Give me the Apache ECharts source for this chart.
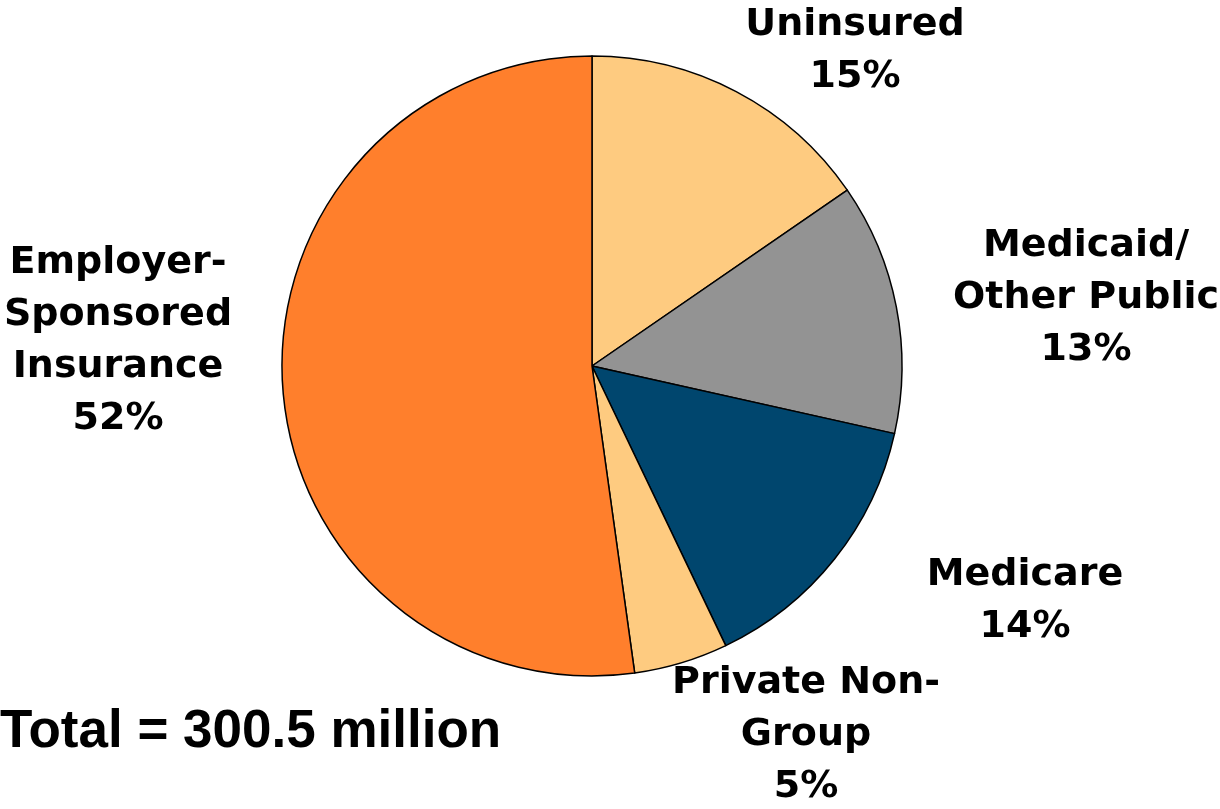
<!DOCTYPE html>
<html>
<head>
<meta charset="utf-8">
<style>html,body{margin:0;padding:0;background:#fff;}#c{width:1220px;height:809px;}</style>
<script src="https://cdn.jsdelivr.net/npm/echarts@6/dist/echarts.min.js"></script>
</head>
<body>
<div id="c"></div>
<script>
var categories = ['Uninsured', 'Medicaid/\nOther Public', 'Medicare', 'Private Non-\nGroup', 'Employer-\nSponsored\nInsurance'];
var shares = [15.4, 13.1, 14.4, 4.9, 52.2];
var colors = ['#FECB80', '#939393', '#00466E', '#FECB80', '#FF7F2C'];
var totalText = 'Total = 300.5 million';

var labelPos = [[855, 51], [1086, 298], [1025, 601], [806, 735], [118, 341]];

var chart = echarts.init(document.getElementById('c'));
chart.setOption({
  backgroundColor: '#fff',
  animation: false,
  title: {
    text: totalText, left: 0, top: 706, padding: 0,
    textStyle: { fontFamily: '"Liberation Sans", Arial', fontWeight: 'bold', fontSize: 53, color: '#000', lineHeight: 53 }
  },
  series: [{
    type: 'pie',
    center: [592, 366],
    radius: 310,
    startAngle: 90,
    clockwise: true,
    data: categories.map(function (c, i) {
      return { name: c, value: shares[i], itemStyle: { color: colors[i] } };
    }),
    itemStyle: { borderColor: '#000', borderWidth: 1.5 },
    label: {
      show: true, position: 'outside', overflow: 'none', width: 400, edgeDistance: 0,
      fontFamily: '"DejaVu Sans", Verdana', fontWeight: 'bold', fontSize: 38, lineHeight: 52, color: '#000', align: 'center',
      formatter: function (p) { return p.name + '\n' + Math.round(p.value) + '%'; }
    },
    labelLine: { show: false },
    labelLayout: function (p) {
      var pos = labelPos[p.dataIndex];
      return { x: pos[0], y: pos[1], align: 'center', verticalAlign: 'middle' };
    },
    emphasis: { disabled: true }
  }]
});
</script>
</body>
</html>
